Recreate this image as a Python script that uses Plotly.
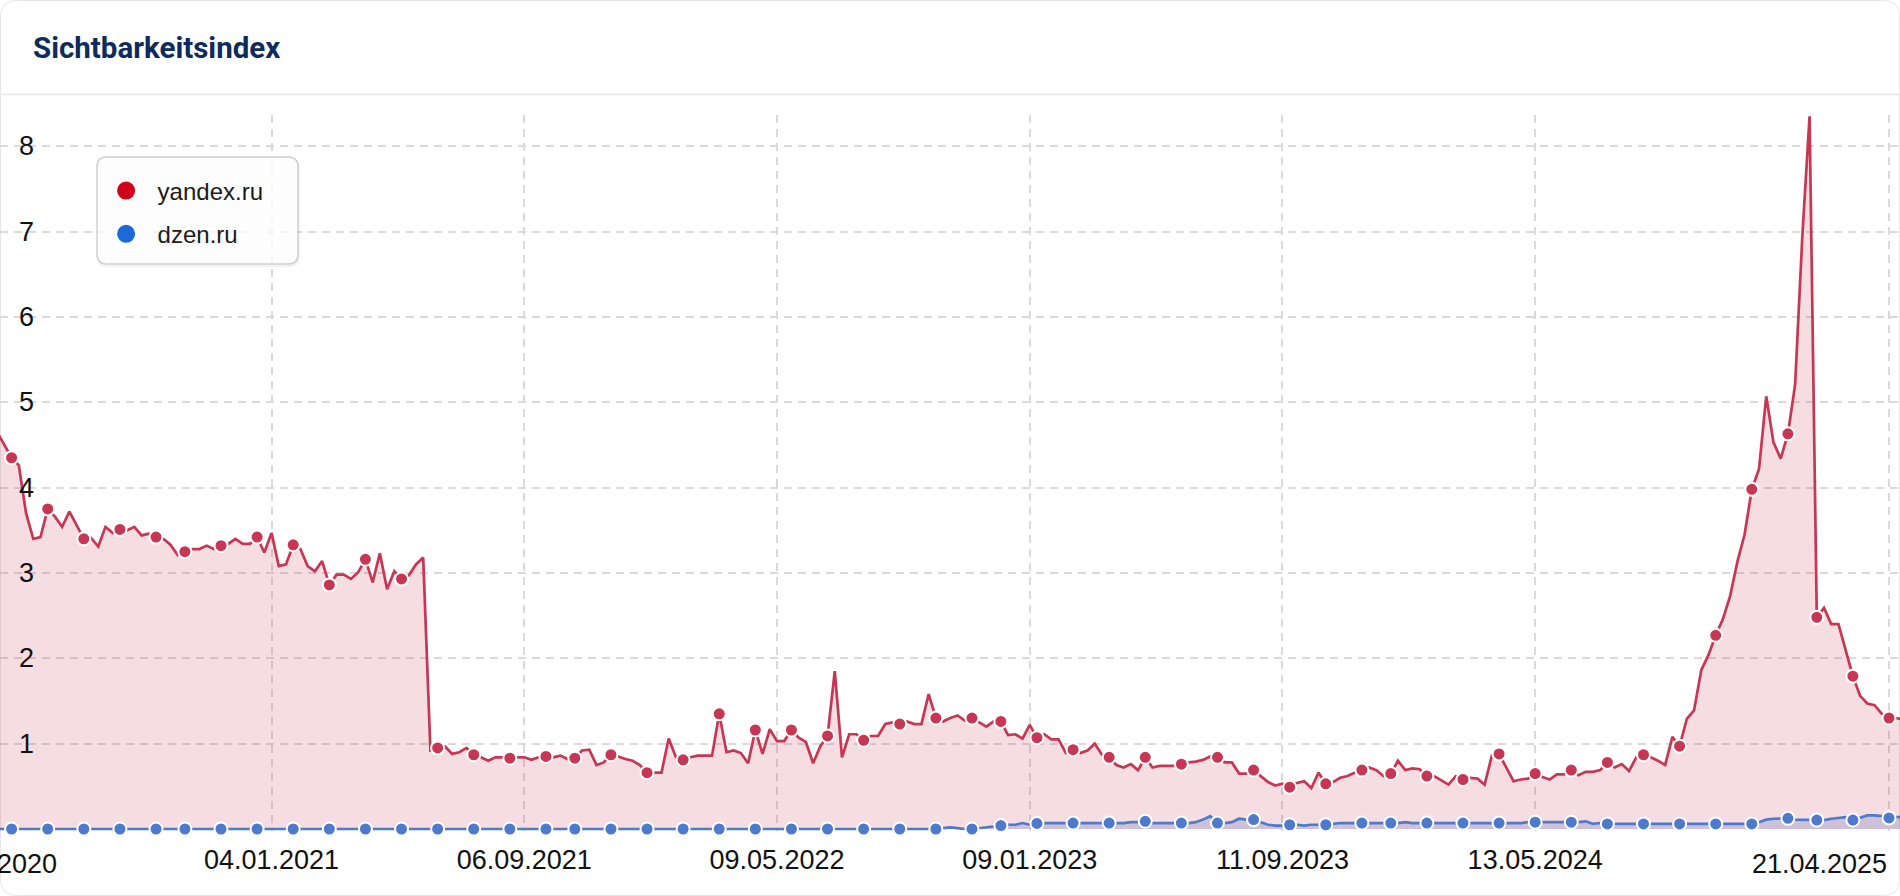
import pandas as pd
import plotly.graph_objects as go

# ---------------- data (weekly Sistrix visibility index) ----------------
first_week = "2020-04-13"

yandex_ru = [
    4.65, 4.50, 4.35, 4.26, 3.70, 3.40, 3.42, 3.75, 3.66, 3.54,
    3.72, 3.56, 3.40, 3.41, 3.31, 3.54, 3.47, 3.51, 3.50, 3.54,
    3.44, 3.46, 3.42, 3.40, 3.33, 3.21, 3.25, 3.28, 3.28, 3.32,
    3.28, 3.32, 3.34, 3.40, 3.34, 3.34, 3.42, 3.24, 3.47, 3.08,
    3.10, 3.33, 3.28, 3.08, 3.02, 3.14, 2.86, 2.98, 2.98, 2.93,
    3.01, 3.16, 2.89, 3.23, 2.81, 3.02, 2.93, 2.97, 3.10, 3.18,
    0.92, 0.95, 0.97, 0.88, 0.90, 0.95, 0.87, 0.84, 0.80, 0.84,
    0.84, 0.83, 0.84, 0.84, 0.81, 0.84, 0.85, 0.84, 0.86, 0.82,
    0.83, 0.92, 0.93, 0.75, 0.78, 0.87, 0.85, 0.82, 0.80, 0.75,
    0.66, 0.66, 0.66, 1.06, 0.84, 0.81, 0.84, 0.86, 0.86, 0.86,
    1.35, 0.90, 0.92, 0.89, 0.77, 1.16, 0.88, 1.17, 1.03, 1.03,
    1.16, 1.07, 1.02, 0.77, 0.97, 1.09, 1.85, 0.84, 1.11, 1.11,
    1.04, 1.09, 1.09, 1.23, 1.25, 1.23, 1.26, 1.23, 1.23, 1.58,
    1.30, 1.26, 1.30, 1.33, 1.27, 1.30, 1.25, 1.20, 1.26, 1.26,
    1.10, 1.11, 1.06, 1.22, 1.07, 1.11, 1.05, 1.05, 0.89, 0.93,
    0.89, 0.92, 1.00, 0.87, 0.84, 0.75, 0.72, 0.76, 0.69, 0.84,
    0.72, 0.74, 0.74, 0.74, 0.76, 0.78, 0.79, 0.81, 0.85, 0.84,
    0.78, 0.78, 0.65, 0.65, 0.69, 0.62, 0.55, 0.51, 0.53, 0.49,
    0.54, 0.56, 0.48, 0.66, 0.53, 0.55, 0.60, 0.62, 0.66, 0.69,
    0.72, 0.69, 0.62, 0.65, 0.80, 0.69, 0.71, 0.70, 0.62, 0.62,
    0.57, 0.52, 0.62, 0.58, 0.60, 0.59, 0.52, 0.86, 0.88, 0.72,
    0.56, 0.58, 0.59, 0.65, 0.61, 0.58, 0.64, 0.64, 0.69, 0.63,
    0.67, 0.67, 0.69, 0.78, 0.72, 0.76, 0.68, 0.84, 0.87, 0.84,
    0.80, 0.75, 1.08, 0.97, 1.29, 1.39, 1.86, 2.04, 2.27, 2.46,
    2.73, 3.13, 3.45, 3.98, 4.22, 5.07, 4.53, 4.34, 4.63, 5.21,
    6.95, 8.35, 2.48, 2.59, 2.40, 2.40, 2.09, 1.79, 1.56, 1.47,
    1.45, 1.35, 1.30, 1.30, 1.28,
]

dzen_ru = [
    0.0, 0.0, 0.0, 0.0, 0.0, 0.0, 0.0, 0.0, 0.0, 0.0,
    0.0, 0.0, 0.0, 0.0, 0.0, 0.0, 0.0, 0.0, 0.0, 0.0,
    0.0, 0.0, 0.0, 0.0, 0.0, 0.0, 0.0, 0.0, 0.0, 0.0,
    0.0, 0.0, 0.0, 0.0, 0.0, 0.0, 0.0, 0.0, 0.0, 0.0,
    0.0, 0.0, 0.0, 0.0, 0.0, 0.0, 0.0, 0.0, 0.0, 0.0,
    0.0, 0.0, 0.0, 0.0, 0.0, 0.0, 0.0, 0.0, 0.0, 0.0,
    0.0, 0.0, 0.0, 0.0, 0.0, 0.0, 0.0, 0.0, 0.0, 0.0,
    0.0, 0.0, 0.0, 0.0, 0.0, 0.0, 0.0, 0.0, 0.0, 0.0,
    0.0, 0.0, 0.0, 0.0, 0.0, 0.0, 0.0, 0.0, 0.0, 0.0,
    0.0, 0.0, 0.0, 0.0, 0.0, 0.0, 0.0, 0.0, 0.0, 0.0,
    0.0, 0.0, 0.0, 0.0, 0.0, 0.0, 0.0, 0.0, 0.0, 0.0,
    0.0, 0.0, 0.0, 0.0, 0.0, 0.0, 0.0, 0.0, 0.0, 0.0,
    0.0, 0.0, 0.0, 0.0, 0.0, 0.0, 0.0, 0.0, 0.0, 0.0,
    0.0, 0.01, 0.02, 0.01, 0.0, 0.0, 0.01, 0.02, 0.03, 0.04,
    0.05, 0.05, 0.07, 0.05, 0.065, 0.07, 0.07, 0.07, 0.07, 0.07,
    0.07, 0.07, 0.07, 0.07, 0.07, 0.07, 0.07, 0.08, 0.08, 0.09,
    0.07, 0.07, 0.07, 0.07, 0.07, 0.07, 0.08, 0.11, 0.15, 0.07,
    0.07, 0.08, 0.12, 0.11, 0.11, 0.08, 0.05, 0.04, 0.04, 0.05,
    0.05, 0.04, 0.05, 0.05, 0.05, 0.06, 0.07, 0.07, 0.07, 0.07,
    0.07, 0.07, 0.07, 0.07, 0.07, 0.08, 0.07, 0.07, 0.07, 0.07,
    0.07, 0.07, 0.07, 0.07, 0.07, 0.07, 0.07, 0.07, 0.07, 0.07,
    0.07, 0.07, 0.08, 0.08, 0.08, 0.08, 0.08, 0.08, 0.08, 0.08,
    0.09, 0.06, 0.07, 0.06, 0.06, 0.06, 0.06, 0.06, 0.06, 0.06,
    0.06, 0.06, 0.06, 0.06, 0.06, 0.06, 0.06, 0.06, 0.06, 0.06,
    0.06, 0.06, 0.06, 0.06, 0.08, 0.11, 0.12, 0.12, 0.125, 0.11,
    0.11, 0.11, 0.105, 0.105, 0.12, 0.13, 0.14, 0.105, 0.13, 0.16,
    0.16, 0.15, 0.13, 0.14, 0.14,
]

# positions (index into the weekly series) where dots are drawn
marker_pos = [2, 7, 12, 17, 22, 26, 31, 36, 41, 46, 51, 56, 61, 66, 71, 76, 80,
              85, 90, 95, 100, 105, 110, 115, 120, 125, 130, 135, 139, 144, 149,
              154, 159, 164, 169, 174, 179, 184, 189, 193, 198, 203, 208, 213,
              218, 223, 228, 233, 238, 243, 248, 252, 257, 262]

tick_dates = ["2021-01-04", "2021-09-06", "2022-05-09", "2023-01-09",
              "2023-09-11", "2024-05-13", "2025-04-21"]
tick_labels = ["04.01.2021", "06.09.2021", "09.05.2022", "09.01.2023",
               "11.09.2023", "13.05.2024", ""]
edge_tick_dates = ["2020-04-06", "2025-04-21"]
edge_tick_labels = ["06.04.2020", "21.04.2025"]
y_ticks = [1, 2, 3, 4, 5, 6, 7, 8]
y_tick_labels = ["1", "2", "3", "4", "5", "6", "7", "8"]

# ---------------- styling / geometry ----------------
FIG_W, FIG_H = 1900, 896
PLOT_TOP, PLOT_BOTTOM = 115, 831
X_RANGE = ["2020-04-15 18:00", "2025-05-01 16:00"]
Y_RANGE = [-0.0234, 8.366]
FONT = "Liberation Sans, Arial, Helvetica, sans-serif"
RED = "rgb(199,54,82)"
RED_FILL = "rgba(199,54,82,0.17)"
BLUE = "rgb(78,122,206)"
BLUE_FILL = "rgba(70,90,190,0.22)"
GRID = "#dadada"
TICK_FONT = dict(family=FONT, size=27, color="#111")


def px(page_x):
    return page_x / FIG_W


def py(page_y):
    return (PLOT_BOTTOM - page_y) / (PLOT_BOTTOM - PLOT_TOP)


def date_to_paper(d):
    t0, t1 = pd.Timestamp(X_RANGE[0]), pd.Timestamp(X_RANGE[1])
    return (pd.Timestamp(d) - t0) / (t1 - t0)


def rounded_rect(x0, y0, x1, y1, r):
    X = lambda v: f"{px(v):.6f}"
    Y = lambda v: f"{py(v):.6f}"
    return (f"M {X(x0 + r)},{Y(y0)} L {X(x1 - r)},{Y(y0)} Q {X(x1)},{Y(y0)} {X(x1)},{Y(y0 + r)} "
            f"L {X(x1)},{Y(y1 - r)} Q {X(x1)},{Y(y1)} {X(x1 - r)},{Y(y1)} "
            f"L {X(x0 + r)},{Y(y1)} Q {X(x0)},{Y(y1)} {X(x0)},{Y(y1 - r)} "
            f"L {X(x0)},{Y(y0 + r)} Q {X(x0)},{Y(y0)} {X(x0 + r)},{Y(y0)} Z")


weeks = pd.date_range(first_week, periods=len(yandex_ru), freq="7D")
mk_x = [weeks[k] for k in marker_pos]

fig = go.Figure()
fig.add_trace(go.Scatter(x=weeks, y=yandex_ru, mode="lines", fill="tozeroy",
                         line=dict(color=RED, width=2.7), fillcolor=RED_FILL,
                         showlegend=False, hoverinfo="skip"))
fig.add_trace(go.Scatter(x=weeks, y=dzen_ru, mode="lines", fill="tozeroy",
                         line=dict(color=BLUE, width=2.7), fillcolor=BLUE_FILL,
                         showlegend=False, hoverinfo="skip"))
fig.add_trace(go.Scatter(x=mk_x, y=[yandex_ru[k] for k in marker_pos], mode="markers",
                         marker=dict(color=RED, size=13, line=dict(color="white", width=2)),
                         cliponaxis=False, showlegend=False, name="yandex.ru"))
fig.add_trace(go.Scatter(x=mk_x, y=[dzen_ru[k] for k in marker_pos], mode="markers",
                         marker=dict(color=BLUE, size=13, line=dict(color="white", width=2)),
                         cliponaxis=False, showlegend=False, name="dzen.ru"))
# legend entries
fig.add_trace(go.Scatter(x=[None], y=[None], mode="markers", name="yandex.ru",
                         legendgroup="a",
                         marker=dict(color="#d0021b", size=16, line=dict(color="#d0021b", width=2))))
fig.add_trace(go.Scatter(x=[None], y=[None], mode="markers", name="dzen.ru",
                         legendgroup="b",
                         marker=dict(color="#1a6ad8", size=16, line=dict(color="#1a6ad8", width=2))))

shapes = [
    # card outline
    dict(type="path", xref="paper", yref="paper", path=rounded_rect(0.5, 0.5, 1899.5, 895.5, 16),
         fillcolor="rgba(0,0,0,0)", line=dict(color="#e6e6e6", width=1), layer="below"),
    # header separator
    dict(type="line", xref="paper", yref="paper", x0=px(0), x1=px(1900),
         y0=py(94.5), y1=py(94.5), line=dict(color="#e6e6e6", width=1.5), layer="above"),
    # legend shadow + box
    dict(type="path", xref="paper", yref="paper", path=rounded_rect(97, 159, 300, 267, 10),
         fillcolor="rgba(0,0,0,0.05)", line=dict(width=0), layer="above"),
    dict(type="path", xref="paper", yref="paper", path=rounded_rect(97, 157, 298, 264, 10),
         fillcolor="rgba(255,255,255,0.8)", line=dict(color="#cfcfcf", width=1.5), layer="above"),
]

annotations = [
    dict(x=date_to_paper(edge_tick_dates[0]), xref="paper", y=0, yref="paper",
         text=edge_tick_labels[0], showarrow=False, xanchor="center", yanchor="middle",
         yshift=-33, font=TICK_FONT),
    dict(x=date_to_paper(edge_tick_dates[1]), xref="paper", y=0, yref="paper",
         text=edge_tick_labels[1], showarrow=False, xanchor="right", yanchor="middle",
         yshift=-33, font=TICK_FONT),
]
# y-axis labels drawn inside the plot, just right of its left edge
for v, lab in zip(y_ticks, y_tick_labels):
    annotations.append(dict(x=px(17), xref="paper", y=v, yref="y", text=lab,
                            showarrow=False, xanchor="left", yanchor="middle",
                            font=TICK_FONT))

fig.update_layout(
    width=FIG_W, height=FIG_H,
    margin=dict(l=0, r=0, t=PLOT_TOP, b=FIG_H - PLOT_BOTTOM, pad=0),
    paper_bgcolor="white", plot_bgcolor="white",
    title=dict(text="<b>Sichtbarkeitsindex</b>", xref="container", yref="container",
               x=33 / FIG_W, y=1 - 48 / FIG_H, xanchor="left", yanchor="middle",
               font=dict(family="Roboto, sans-serif", size=29.5, color="#0d2b5c")),
    xaxis=dict(type="date", range=X_RANGE,
               tickvals=tick_dates, ticktext=tick_labels, showgrid=True,
               gridcolor=GRID, gridwidth=1.6, griddash="8px,6px", showline=False,
               zeroline=False, ticks="", tickfont=TICK_FONT, ticklabelstandoff=10),
    yaxis=dict(range=Y_RANGE, tickvals=y_ticks, showgrid=True, gridcolor=GRID,
               gridwidth=1.6, griddash="8px,6px", zeroline=False, showline=False,
               ticks="", showticklabels=False),
    legend=dict(x=px(94.6), y=py(168.5), xanchor="left", yanchor="top",
                bgcolor="rgba(0,0,0,0)", borderwidth=0, itemwidth=53,
                tracegroupgap=9, itemsizing="trace",
                font=dict(family=FONT, size=24, color="#1a1a1a")),
    shapes=shapes,
    annotations=annotations,
    showlegend=True,
)

fig.write_html(
    "out.html",
    config={"displayModeBar": False},
    post_script="document.body.style.margin='0';"
                "document.documentElement.style.overflow='hidden';",
)
